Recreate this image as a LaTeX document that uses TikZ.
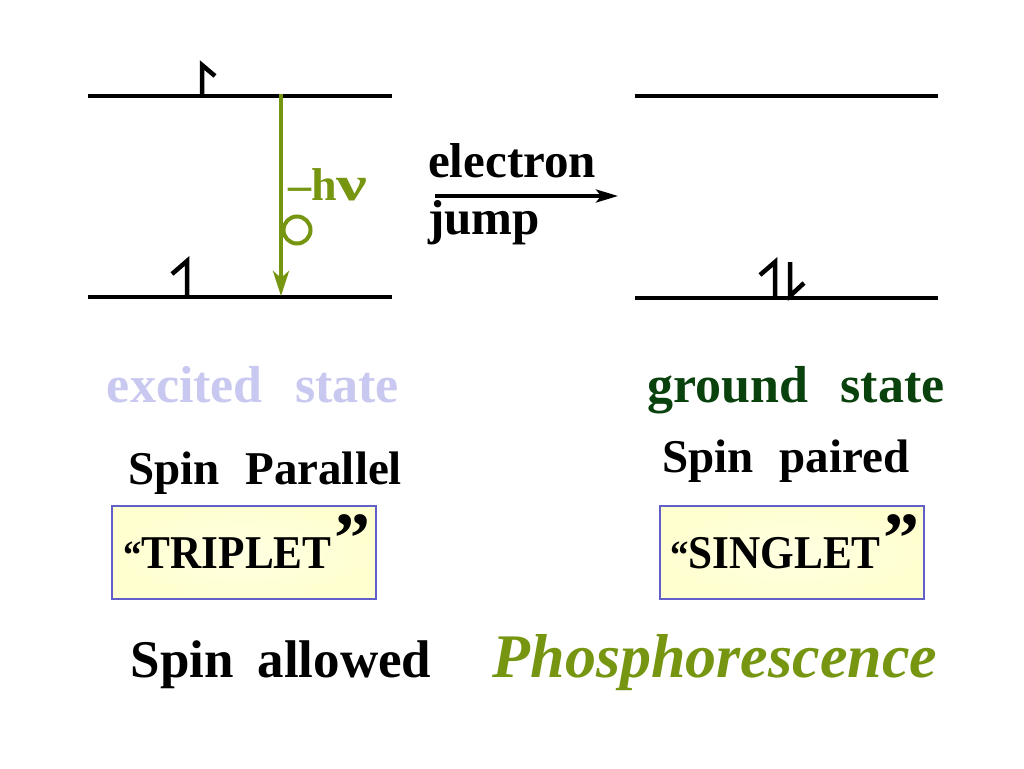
\documentclass[tikz,border=0pt]{standalone}
\usepackage{fontspec}
\usepackage{graphicx}
\setmainfont{Liberation Serif}
\usetikzlibrary{arrows.meta}
\definecolor{olive}{RGB}{118,150,18}
\definecolor{lavender}{RGB}{200,200,240}
\definecolor{dgreen}{RGB}{10,66,14}
\definecolor{boxfill}{RGB}{255,255,208}
\definecolor{boxline}{RGB}{96,96,200}
\newcommand{\ws}[1]{\hspace{#1em}}
\newcommand{\fs}[1]{\fontsize{#1}{#1}\selectfont}
\begin{document}
\begin{tikzpicture}[x=1pt,y=-1pt,
  level/.style={line width=4.5pt},
  spin/.style={line width=4.5pt,miter limit=10},
  lbl/.style={anchor=base,inner sep=0pt,font=\bfseries},
  qbox/.style={draw=boxline,line width=1.2pt,inner color=white!40!boxfill,outer color=boxfill,minimum width=264pt,minimum height=93pt},
  photon/.style={olive,line width=4.5pt,-{Stealth[length=25pt,width=16pt,inset=7pt]}},
  jumparrow/.style={line width=3.8pt,-{Stealth[length=22pt,width=13pt,inset=5pt]}}]
\useasboundingbox (0,0) rectangle (1024,768);
\fill[white] (0,0) rectangle (1024,768);
% energy levels
\coordinate (LT1) at (88,96);  \coordinate (LT2) at (392,96);
\coordinate (LB1) at (88,297); \coordinate (LB2) at (392,297);
\coordinate (RT1) at (635,96);  \coordinate (RT2) at (938,96);
\coordinate (RB1) at (635,298); \coordinate (RB2) at (938,298);
\draw[level] (LT1) -- (LT2);
\draw[level] (LB1) -- (LB2);
\draw[level] (RT1) -- (RT2);
\draw[level] (RB1) -- (RB2);
% spins
\draw[spin] (202,95) -- (202,65) -- (215,76);
\draw[spin] (187,296) -- (187,261) -- (172,274);
\draw[spin] (775,297) -- (775,262) -- (760,275);
\draw[spin] (790,262) -- (790,296) -- (804,283);
% photon emission
\coordinate (PA) at (281,94);
\coordinate (PB) at (281,296);
\draw[photon] (PA) -- (PB);
\node[draw=olive,line width=4pt,circle,minimum size=27pt,inner sep=0pt] (circ) at (297,230) {};
\node[lbl,olive,font=\bfseries\fs{46},anchor=base west] (hnu) at (288,200) {–h\scalebox{1.5}[1.05]{ν}};
% electron jump
\coordinate (JA) at (435,196);
\coordinate (JB) at (618,196);
\draw[jumparrow] (JA) -- (JB);
\node[lbl,font=\bfseries\fs{49},anchor=base west] (el) at (428,177) {electron};
\node[lbl,font=\bfseries\fs{49},anchor=base west] (jp) at (428,234) {jump};
% state labels
\node[lbl,lavender,font=\bfseries\fs{52}] (ex) at (253,402) {excited\ws{0.62}state};
\node[lbl,dgreen,font=\bfseries\fs{52}] (gs) at (796,402) {ground\ws{0.62}state};
\node[lbl,font=\bfseries\fs{47}] (sp) at (265,484) {Spin\ws{0.55}Parallel};
\node[lbl,font=\bfseries\fs{47}] (sq) at (786,472) {Spin\ws{0.55}paired};
% boxes
\node[qbox] (tb) at (244,552.5) {};
\node[qbox] (sb) at (792,552.5) {};
\node[lbl,font=\bfseries\fs{47}] (tt) at (247,568) {\scalebox{0.92}[1]{\fs{40}“\fs{47}TRIPLET}\hspace{3pt}\raisebox{6pt}{\fs{72}”}};
\node[lbl,font=\bfseries\fs{47}] (st) at (795,568) {\scalebox{0.92}[1]{\fs{40}“\fs{47}SINGLET}\hspace{3pt}\raisebox{6pt}{\fs{72}”}};
% bottom
\node[lbl,font=\bfseries\fs{53}] (sa) at (281,677) {Spin\ws{0.45}allowed};
\node[lbl,olive,font=\bfseries\itshape\fs{62}] (ph) at (715,677) {Phosphorescence};
\end{tikzpicture}
\end{document}
